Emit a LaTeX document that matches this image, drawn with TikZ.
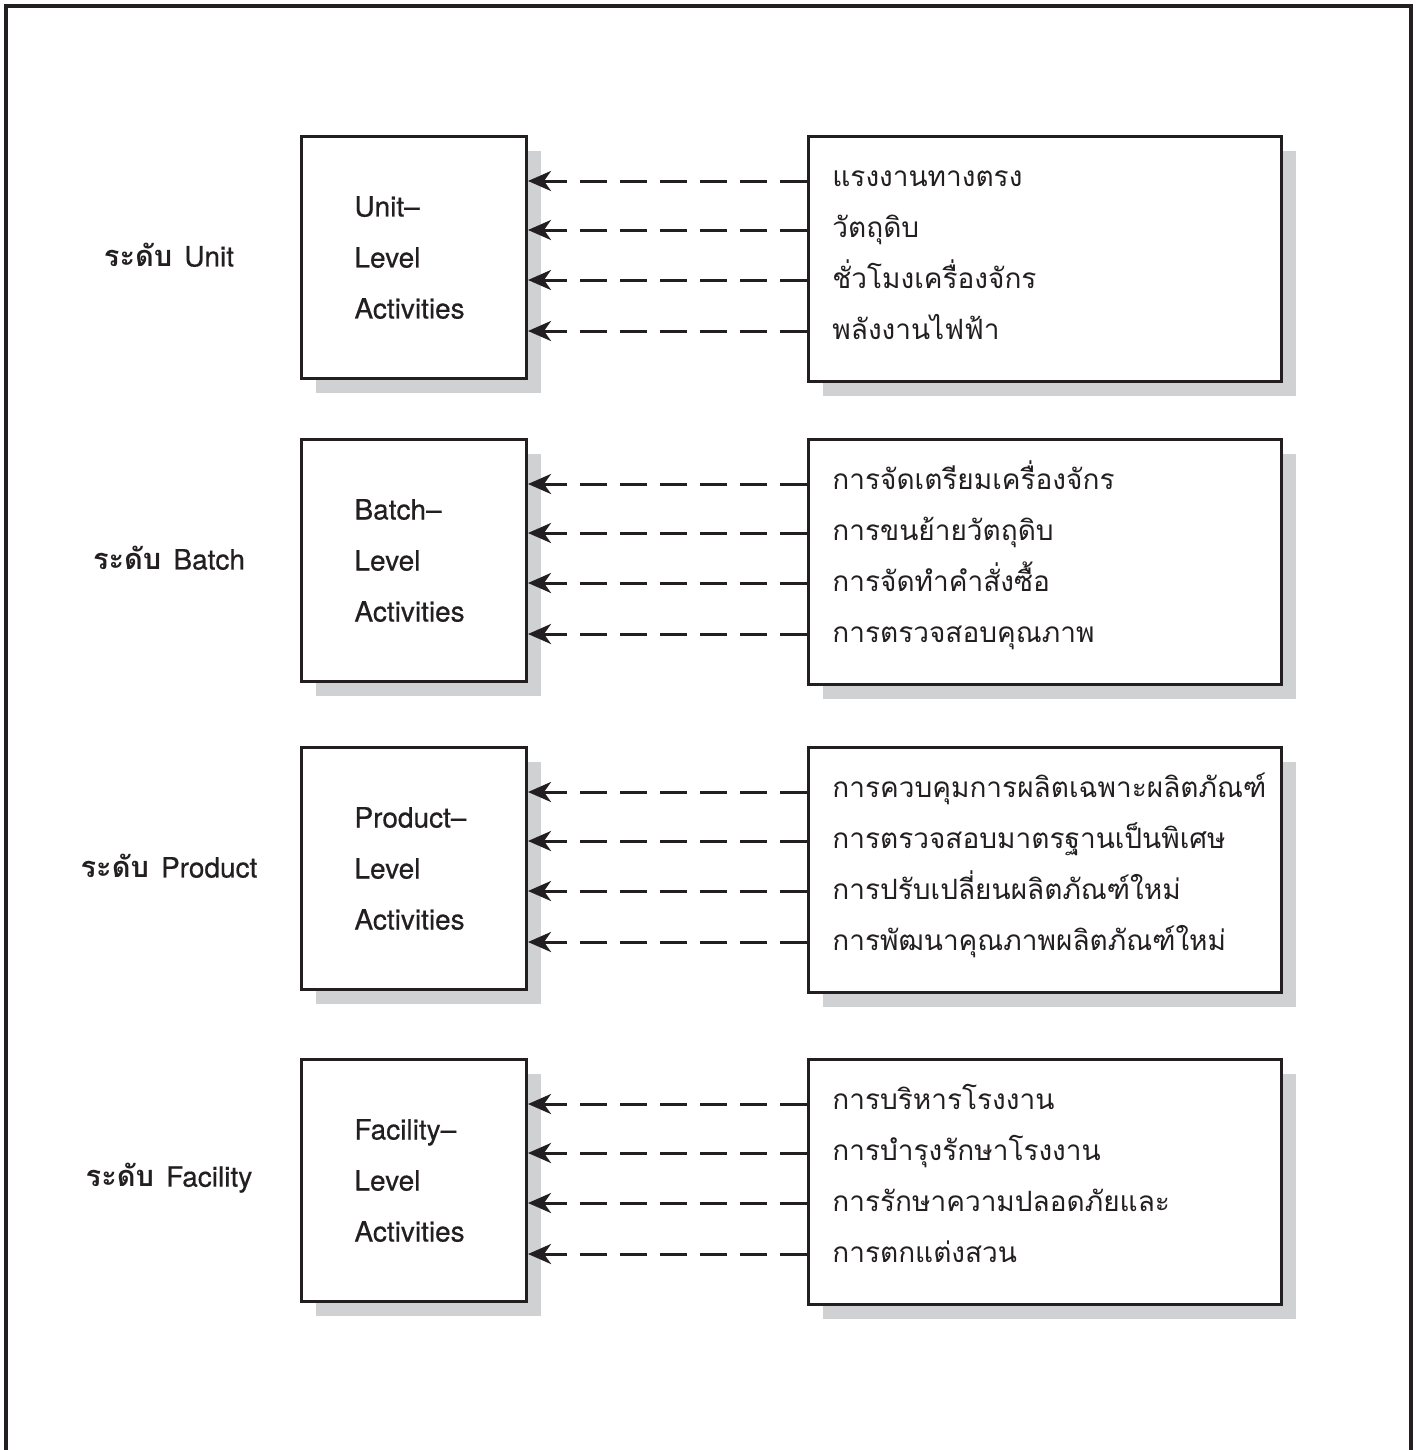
\documentclass[tikz,border=0pt]{standalone}
\usepackage{fontspec}
\newfontfamily\thaifont[Script=Thai]{Loma}
\newfontface\herosfont[FakeBold=0.5]{TeX Gyre Heros}
\usetikzlibrary{arrows.meta,shadows,calc}
\definecolor{shadowgray}{RGB}{208,209,211}
\definecolor{inkc}{RGB}{35,31,32}
\tikzset{
  frame/.style={draw=inkc, line width=2pt},
  boxbase/.style={draw=inkc, line width=1.5pt, fill=white, anchor=north west,
    drop shadow={shadow xshift=7pt, shadow yshift=-7pt, fill=shadowgray, opacity=1}},
  lbox/.style={boxbase, minimum width=112.5pt, minimum height=121pt,
    text width=59.5pt, inner xsep=26.5pt, inner ysep=0pt, align=left,
    font=\herosfont\fontsize{14}{25.5}\selectfont, text=inkc},
  rbox/.style={boxbase, minimum width=236.5pt, minimum height=122.5pt},
  lab/.style={inner sep=0pt, anchor=center, font=\herosfont\fontsize{14}{17}\selectfont, text=inkc},
  rtext/.style={inner sep=0pt, anchor=base west, font=\thaifont\fontsize{14}{18}\selectfont, text=inkc},
  arr/.style={draw=inkc, line width=1.5pt, dash pattern=on 13.5pt off 6.5pt,
    -{Stealth[length=11.5pt, width=10pt, inset=3.5pt]}}
}
\newcommand\drawrow[7]{%
  \node[lbox] (L#1) at (300,#2) {#3–\\Level\\Activities};
  \node[rbox] (R#1) at (807,#2) {};
  \node[lab] (T#1) at (169,#2+120) {{\thaifont\bfseries\fontsize{14.5}{17}\selectfont ระดับ}\hspace{6pt}#3};
  \node[rtext] (A#1) at (832,#2+51) {#4};
  \node[rtext] (B#1) at (832,#2+102) {#5};
  \node[rtext] (C#1) at (832,#2+153) {#6};
  \node[rtext] (D#1) at (832,#2+204) {#7};
  \foreach \o in {46,95,145,196}{
    \draw[arr] ($(R#1.north west)+(0,\o)$) -- ($(L#1.north east)+(0,\o)$);
  }
}
\begin{document}
\begin{tikzpicture}[x=0.5pt,y=-0.5pt]
\useasboundingbox (0,0) rectangle (1417,1450);
\draw[frame] (6,1450) -- (6,6) -- (1411,6) -- (1411,1450);
\drawrow{1}{135}{Unit}{แรงงานทางตรง}{วัตถุดิบ}{ชั่วโมงเครื่องจักร}{พลังงานไฟฟ้า}
\drawrow{2}{438}{Batch}{การจัดเตรียมเครื่องจักร}{การขนย้ายวัตถุดิบ}{การจัดทำคำสั่งซื้อ}{การตรวจสอบคุณภาพ}
\drawrow{3}{746}{Product}{การควบคุมการผลิตเฉพาะผลิตภัณฑ์}{การตรวจสอบมาตรฐานเป็นพิเศษ}{การปรับเปลี่ยนผลิตภัณฑ์ใหม่}{การพัฒนาคุณภาพผลิตภัณฑ์ใหม่}
\drawrow{4}{1058}{Facility}{การบริหารโรงงาน}{การบำรุงรักษาโรงงาน}{การรักษาความปลอดภัยและ}{การตกแต่งสวน}
\end{tikzpicture}
\end{document}
